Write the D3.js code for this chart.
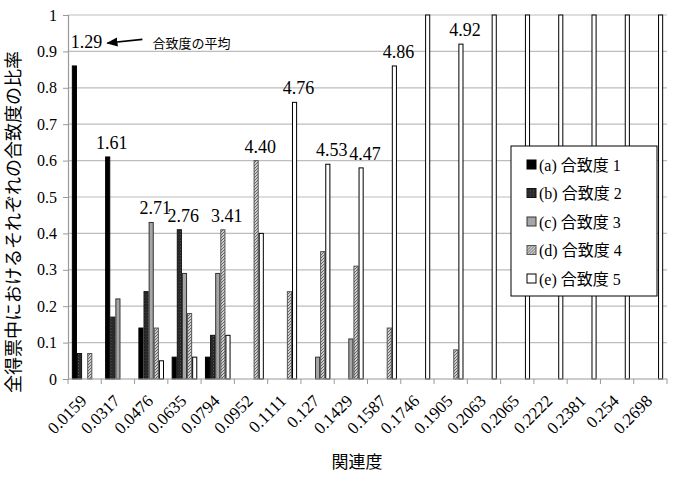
<!DOCTYPE html>
<html>
<head>
<meta charset="utf-8">
<script src="https://cdn.jsdelivr.net/npm/d3@7"></script>
<style>
  body { margin: 0; background: #fff; }
  svg { display: block; }
  svg text { font-family: "Liberation Serif", "Noto Sans CJK JP", serif; }
  svg text.jp { font-family: "Noto Sans CJK JP", sans-serif; }
</style>
</head>
<body>
<svg width="674" height="477"></svg>
<script>
// relatedness categories (x axis)
var categories = ["0.0159","0.0317","0.0476","0.0635","0.0794","0.0952","0.1111","0.127",
                  "0.1429","0.1587","0.1746","0.1905","0.2063","0.2065","0.2222","0.2381","0.254","0.2698"];
var seriesNames = ["(a) 合致度 1","(b) 合致度 2","(c) 合致度 3","(d) 合致度 4","(e) 合致度 5"];
// share of votes for each agreement level
var level1 = [0.86,0.61,0.14,0.06,0.06,0,0,0,0,0,0,0,0,0,0,0,0,0];
var level2 = [0.07,0.17,0.24,0.41,0.12,0,0,0,0,0,0,0,0,0,0,0,0,0];
var level3 = [0,0.22,0.43,0.29,0.29,0,0,0.06,0.11,0,0,0,0,0,0,0,0,0];
var level4 = [0.07,0,0.14,0.18,0.41,0.60,0.24,0.35,0.31,0.14,0,0.08,0,0,0,0,0,0];
var level5 = [0,0,0.05,0.06,0.12,0.40,0.76,0.59,0.58,0.86,1,0.92,1,1,1,1,1,1];
// mean agreement labels (null = no label)
var meanLabels = ["1.29","1.61","2.71","2.76","3.41","4.40","4.76","4.53","4.47","4.86",null,"4.92",null,null,null,null,null,null];
var yTicks = [0,0.1,0.2,0.3,0.4,0.5,0.6,0.7,0.8,0.9,1];

var series = [level1, level2, level3, level4, level5];
var fills = ["#000", "url(#patB)", "#a6a6a6", "url(#patD)", "#fff"];
var strokes = ["#000", "#111", "#333", "#555", "#000"];

var svg = d3.select("svg");
var mLeft = 68, mRight = 667, mTop = 15, mBottom = 379;
var serif = "'Liberation Serif', serif";

// patterns
var defs = svg.append("defs");
var pb = defs.append("pattern").attr("id","patB").attr("patternUnits","userSpaceOnUse")
    .attr("width",3).attr("height",3);
pb.append("rect").attr("width",3).attr("height",3).attr("fill","#2a2a2a");
pb.append("rect").attr("width",1).attr("height",1).attr("fill","#555");
var pd = defs.append("pattern").attr("id","patD").attr("patternUnits","userSpaceOnUse")
    .attr("width",3).attr("height",3);
pd.append("rect").attr("width",3).attr("height",3).attr("fill","#d0d0d0");
pd.append("path").attr("d","M0,3 L3,0").attr("stroke","#666").attr("stroke-width",1);
var mk = defs.append("marker").attr("id","arrow").attr("viewBox","0 0 10 10")
    .attr("refX",9).attr("refY",5).attr("markerWidth",7).attr("markerHeight",7)
    .attr("orient","auto-start-reverse");
mk.append("path").attr("d","M0,1 L10,5 L0,9 z").attr("fill","#000");

var x = d3.scaleBand().domain(categories).range([mLeft, mRight])
    .paddingInner(1.5/6.5).paddingOuter(0.75/6.5);
var xs = d3.scaleBand().domain(d3.range(series.length)).range([0, x.bandwidth()]);
var y = d3.scaleLinear().domain([0, 1]).range([mBottom, mTop]);
var step = x.step();

// gridlines
svg.append("g").selectAll("line").data(yTicks.slice(1)).enter().append("line")
    .attr("x1", mLeft).attr("x2", mRight)
    .attr("y1", function(d){ return y(d); }).attr("y2", function(d){ return y(d); })
    .attr("stroke", "#bdbdbd").attr("stroke-width", 1.2);

// y axis
var gy = svg.append("g").attr("transform","translate(" + mLeft + ",0)")
    .call(d3.axisLeft(y).tickValues(yTicks).tickSize(5).tickPadding(6)
      .tickFormat(function(d){ return d === 0 || d === 1 ? d : d.toFixed(1); }));
gy.attr("font-family", serif);
gy.select(".domain").attr("stroke","#9a9a9a").attr("stroke-width",1.2);
gy.selectAll(".tick line").attr("stroke","#9a9a9a");
gy.selectAll(".tick text").attr("font-size",16).attr("fill","#000")
    .attr("font-family", serif);

// bars
series.forEach(function(vals, s){
  var g = svg.append("g");
  vals.forEach(function(v, i){
    if (v <= 0) return;
    g.append("rect")
      .attr("x", x(categories[i]) + xs(s) + 0.5)
      .attr("y", y(v))
      .attr("width", xs.bandwidth() - 1)
      .attr("height", y(0) - y(v))
      .attr("fill", fills[s]).attr("stroke", strokes[s]).attr("stroke-width", 1);
  });
});

// x axis line and ticks at category boundaries
svg.append("line").attr("x1", mLeft).attr("x2", mRight).attr("y1", mBottom).attr("y2", mBottom)
    .attr("stroke","#9a9a9a").attr("stroke-width",1.2);
svg.append("g").selectAll("line").data(d3.range(categories.length + 1)).enter().append("line")
    .attr("x1", function(i){ return mLeft + i * step; }).attr("x2", function(i){ return mLeft + i * step; })
    .attr("y1", mBottom).attr("y2", mBottom + 5).attr("stroke","#9a9a9a");

// x tick labels
svg.append("g").selectAll("text").data(categories).enter().append("text")
    .attr("transform", function(d){
      return "translate(" + (x(d) + x.bandwidth()/2 + 3) + "," + (mBottom + 23) + ") rotate(-45)";
    })
    .attr("text-anchor","end").attr("font-size",17).attr("fill","#000")
    .attr("font-family", serif)
    .text(function(d){ return d; });

// mean labels above the tallest bar of each group
meanLabels.forEach(function(lab, i){
  if (!lab) return;
  var vals = series.map(function(sr){ return sr[i]; });
  var mx = d3.max(vals), s = vals.indexOf(mx);
  var ly = i === 0 ? y(0.91) : y(mx) - 8;
  svg.append("text")
    .attr("x", x(categories[i]) + xs(s) + xs.bandwidth()/2 + (i === 0 ? 12 : 4))
    .attr("y", ly).attr("text-anchor","middle").attr("font-size",18).attr("fill","#000")
    .attr("font-family", serif)
    .text(lab);
});

// annotation for the mean
var ax = x(categories[0]) + xs(0) + xs.bandwidth()/2 + 12 + 20;
svg.append("line").attr("x1", ax + 36).attr("x2", ax + 1).attr("y1", y(0.933)).attr("y2", y(0.923))
    .attr("stroke","#000").attr("stroke-width",1.6).attr("marker-end","url(#arrow)");
svg.append("text").attr("class","jp").attr("x", ax + 46).attr("y", y(0.923) + 5)
    .attr("font-size",13).attr("fill","#000").text("合致度の平均");

// legend
var lg = svg.append("g").attr("transform","translate(511,146)");
lg.append("rect").attr("width",146).attr("height",150).attr("fill","#fff")
    .attr("stroke","#000").attr("stroke-width",1);
seriesNames.forEach(function(name, s){
  var row = lg.append("g").attr("transform","translate(16," + (19 + s * 28.5) + ")");
  row.append("rect").attr("x",0).attr("y",-5).attr("width",9).attr("height",9)
    .attr("fill", fills[s]).attr("stroke", strokes[s]);
  row.append("text").attr("x",12).attr("y",5.5).attr("font-size",16).attr("fill","#000").text(name);
});

// axis titles
svg.append("text").attr("class","jp").attr("x", 357).attr("y", 468).attr("text-anchor","middle")
    .attr("font-size",17).attr("fill","#000").text("関連度");
svg.append("text").attr("class","jp")
    .attr("transform","translate(20," + ((mTop + mBottom)/2 + 25) + ") rotate(-90)")
    .attr("text-anchor","middle").attr("font-size",18).attr("fill","#000")
    .text("全得票中におけるそれぞれの合致度の比率");
</script>
</body>
</html>
